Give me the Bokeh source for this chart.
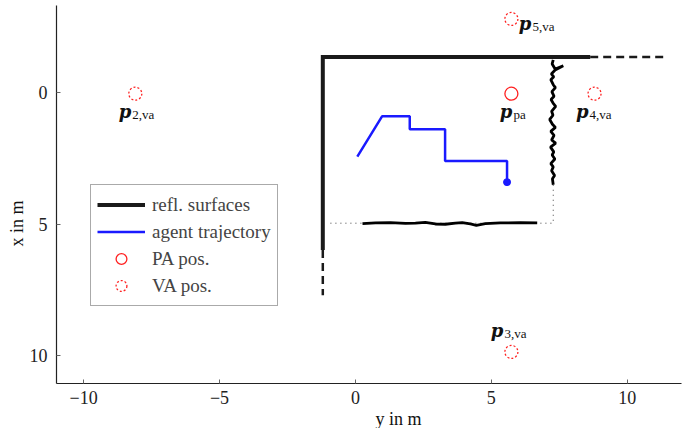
from bokeh.plotting import figure
from bokeh.models import Range1d, Legend, LegendItem, FixedTicker, Title
from bokeh.core.properties import value
from bokeh.embed import file_html
from bokeh.resources import INLINE

# ---------------- data (horizontal = y in m, vertical = x in m) ----------------
wall_y = [8.64, -1.2, -1.2]
wall_x = [-1.35, -1.35, 5.98]
wall_ext_h_y = [8.64, 11.4]
wall_ext_h_x = [-1.35, -1.35]
wall_ext_v_y = [-1.2, -1.2]
wall_ext_v_x = [5.98, 7.7]

rough_v_y = [7.28, 7.24, 7.35, 7.65, 7.35, 7.21, 7.30, 7.19, 7.28, 7.36, 7.23, 7.31,
             7.20, 7.28, 7.37, 7.22, 7.27, 7.15, 7.25, 7.36, 7.19, 7.31, 7.22, 7.37,
             7.18, 7.30, 7.24, 7.34, 7.19, 7.28, 7.22, 7.33, 7.25, 7.28]
rough_v_x = [-1.24, -1.09, -0.90, -1.02, -0.86, -0.71, -0.60, -0.49, -0.30, -0.19,
             -0.04, 0.14, 0.26, 0.41, 0.52, 0.71, 0.86, 1.02, 1.20, 1.32, 1.47, 1.62,
             1.80, 1.92, 2.07, 2.25, 2.37, 2.52, 2.70, 2.82, 2.97, 3.15, 3.27, 3.50]

rough_h_y = [0.26, 0.74, 1.29, 1.84, 2.21, 2.57, 2.94, 3.31, 3.68, 3.93, 4.23, 4.45,
             4.78, 5.33, 6.07, 6.69]
rough_h_x = [4.98, 4.95, 4.94, 4.97, 4.96, 4.93, 4.99, 5.00, 4.96, 4.94, 4.99, 5.04,
             4.98, 4.95, 4.94, 4.95]

dot_h_y = [-0.92, 7.28]
dot_h_x = [4.96, 4.96]
dot_v_y = [7.28, 7.28]
dot_v_x = [3.50, 4.96]

traj_y = [0.07, 0.98, 2.0, 2.0, 3.3, 3.3, 5.58, 5.58]
traj_x = [2.43, 0.9, 0.9, 1.39, 1.39, 2.6, 2.6, 3.4]

pa_y = [5.74]
pa_x = [0.04]
pa_sub = "pa"

va_y = [-8.1, 5.74, 8.8, 5.74]
va_x = [0.04, 9.85, 0.04, -2.8]
va_sub = ["2,va", "3,va", "4,va", "5,va"]

x_ticks = [-10, -5, 0, 5, 10]
y_ticks = [0, 5, 10]

# ---------------- figure ----------------
SERIF = "Liberation Serif"
p = figure(width=688, height=428, output_backend="svg", toolbar_location=None,
           x_range=Range1d(-11, 12), y_range=Range1d(11.05, -3.31),
           min_border_left=56, min_border_right=7, min_border_top=5, min_border_bottom=41)
p.outline_line_color = None
p.xgrid.visible = False
p.ygrid.visible = False
for ax in (p.xaxis[0], p.yaxis[0]):
    ax.major_tick_in = 4
    ax.major_tick_out = 0
    ax.minor_tick_line_color = None
    ax.axis_line_color = "#222222"
    ax.axis_line_width = 1.2
    ax.major_tick_line_color = "#666666"
    ax.major_label_text_font = SERIF
    ax.major_label_text_font_size = "18px"
    ax.major_label_text_color = "#222222"
p.xaxis[0].ticker = FixedTicker(ticks=x_ticks)
p.yaxis[0].ticker = FixedTicker(ticks=y_ticks)
p.xaxis[0].major_label_overrides = {t: str(t).replace("-", "\u2212") for t in x_ticks}
p.xaxis[0].major_label_standoff = 7
p.yaxis[0].major_label_standoff = 9

# axis titles, placed off-centre as in the reference
p.add_layout(Title(text="y in m", align="left", offset=319, standoff=0,
                   text_font=SERIF, text_font_size="18px", text_font_style="normal",
                   text_color="#111111"), "below")
p.add_layout(Title(text="x in m", align="left", offset=137, standoff=0,
                   text_font=SERIF, text_font_size="18px", text_font_style="normal",
                   text_color="#111111"), "left")

# dotted guide lines
p.line(dot_h_y, dot_h_x, line_color="#444444", line_width=1, line_dash="1 4")
p.line(dot_v_y, dot_v_x, line_color="#444444", line_width=1, line_dash="1 4")

# walls
r_wall = p.line(wall_y, wall_x, line_color="#1a1a1a", line_width=4, line_join="miter")
p.line(wall_ext_h_y, wall_ext_h_x, line_color="#1a1a1a", line_width=2.5, line_dash="8 5")
p.line(wall_ext_v_y, wall_ext_v_x, line_color="#1a1a1a", line_width=2.5, line_dash="8 5")
p.line(rough_v_y, rough_v_x, line_color="black", line_width=2.8)
p.line(rough_h_y, rough_h_x, line_color="black", line_width=2.8)

# trajectory
r_traj = p.line(traj_y, traj_x, line_color="#1a1aff", line_width=2.5)
p.scatter([traj_y[-1]], [traj_x[-1]], size=7, color="#1a1aff")

# anchors
r_pa = p.scatter(pa_y, pa_x, size=13, fill_color=None, line_color="#ff2020", line_width=1.3)
r_va = p.scatter(va_y, va_x, size=13, fill_color=None, line_color="#ff2020",
                 line_width=1.3, line_dash="2 2")

# math-style labels: bold italic p + subscript
lab_pos = {  # joint offset (px) relative to the marker, p baseline offset (px, down)
    "pa": (1, 18),
    "2,va": (-4, 18),
    "3,va": (-8, -21),
    "4,va": (-6, 18),
    "5,va": (20, 5),
}
all_labels = [(pa_y[0], pa_x[0], pa_sub)] + list(zip(va_y, va_x, va_sub))
for yy, xx, sub in all_labels:
    dx, dy = lab_pos[sub]
    p.text([yy], [xx], text=["p"], x_offset=dx, y_offset=dy,
           text_font=value("DejaVu Serif"), text_font_style="bold italic",
           text_font_size="18px",
           text_align="right", text_baseline="alphabetic", text_color="#111111")
    p.text([yy], [xx], text=[sub], x_offset=dx + 1, y_offset=dy + 3,
           text_font=value(SERIF), text_font_size="13px",
           text_align="left", text_baseline="alphabetic", text_color="#111111")

legend = Legend(items=[
    LegendItem(label="refl. surfaces", renderers=[r_wall]),
    LegendItem(label="agent trajectory", renderers=[r_traj]),
    LegendItem(label="PA pos.", renderers=[r_pa]),
    LegendItem(label="VA pos.", renderers=[r_va]),
], location=(34, 77), label_text_font=SERIF, label_text_font_size="19px",
    glyph_width=48, glyph_height=27, label_height=27, spacing=0, padding=6,
    label_standoff=7, border_line_color="#555555", border_line_width=1.2,
    background_fill_alpha=1.0, margin=0)
p.add_layout(legend)

open("out.html", "w").write(file_html(p, INLINE))
